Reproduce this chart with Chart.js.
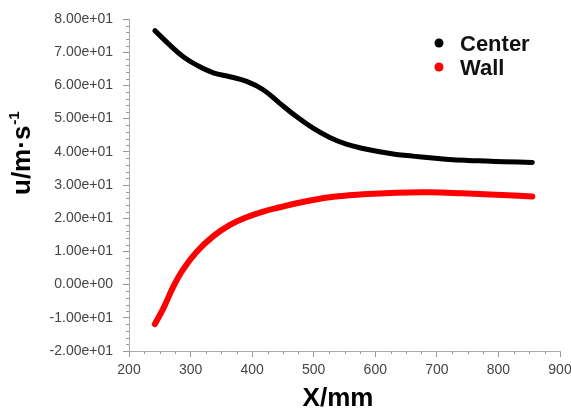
<!DOCTYPE html>
<html lang="en">
<head>
  <meta charset="UTF-8" />
  <title>u vs X</title>
  <script src="https://cdn.jsdelivr.net/npm/chart.js@4/dist/chart.umd.min.js"></script>
  <style>
    html, body { margin: 0; padding: 0; background: #fff; }
    #wrap { width: 571px; height: 409px; }
  </style>
</head>
<body>
  <div id="wrap"><canvas id="grafico" width="571" height="409"></canvas></div>
  <script>
    // data (X in mm, u in m/s)
    const centerX = [242, 266, 288, 310, 337, 364, 391, 418, 445, 472, 499, 526, 553, 580, 607, 634, 661, 689, 720, 750, 780, 810, 855];
    const centerU = [76.5, 72.2, 68.6, 66.1, 63.8, 62.6, 61.2, 58.7, 54.6, 50.6, 47.1, 44.3, 42.3, 41.0, 40.0, 39.2, 38.7, 38.2, 37.7, 37.4, 37.2, 37.0, 36.8];
    const wallX = [242, 256, 272, 288, 310, 337, 364, 391, 418, 445, 472, 526, 580, 634, 688, 742, 796, 855];
    const wallU = [-11.9, -7.1, -0.6, 4.6, 9.9, 14.6, 18.0, 20.3, 22.0, 23.3, 24.5, 26.3, 27.2, 27.7, 27.8, 27.5, 27.1, 26.5];
    const seriesNames = ["Center", "Wall"];
    const seriesColors = ["#000000", "#ff0000"];

    const xMin = 200, xMax = 900, xStep = 100, xMinor = 25;
    const yMin = -20, yMax = 80, yStep = 10, yMinor = 2;

    const toPts = (xs, ys) => xs.map((x, i) => ({ x: x, y: ys[i] }));

    // 8.00e+01 style labels
    function sci(v) {
      if (Math.abs(v) < 1e-9) return "0.00e+00";
      const e = Math.floor(Math.log10(Math.abs(v)));
      const m = v / Math.pow(10, e);
      return m.toFixed(2) + "e" + (e < 0 ? "-" : "+") + String(Math.abs(e)).padStart(2, "0");
    }

    // minor ticks, titles and legend
    const extras = {
      id: "extras",
      afterDraw(chart) {
        const c = chart.ctx;
        const xs = chart.scales.x, ys = chart.scales.y;
        const area = chart.chartArea;
        c.save();
        c.strokeStyle = "#9a9a9a";
        c.lineWidth = 1;
        c.beginPath();
        for (let v = xMin; v <= xMax; v += xMinor) {
          if (v % xStep === 0) continue;
          const px = Math.round(xs.getPixelForValue(v)) + 0.5;
          c.moveTo(px, area.bottom);
          c.lineTo(px, area.bottom + 3);
        }
        for (let v = yMin; v <= yMax; v += yMinor) {
          if (v % yStep === 0) continue;
          const py = Math.round(ys.getPixelForValue(v)) + 0.5;
          c.moveTo(area.left, py);
          c.lineTo(area.left - 3, py);
        }
        c.stroke();

        // x title
        c.fillStyle = "#000";
        c.font = "bold 26px 'Liberation Sans', Arial, sans-serif";
        c.textAlign = "center";
        c.textBaseline = "alphabetic";
        c.fillText("X/mm", 338, 406);

        // y title, with superscript
        c.translate(30, 195);
        c.rotate(-Math.PI / 2);
        c.textAlign = "left";
        c.font = "bold 26px 'Liberation Sans', Arial, sans-serif";
        c.fillText("u/m·s", 0, 0);
        const w = c.measureText("u/m·s").width;
        c.font = "bold 15px 'Liberation Sans', Arial, sans-serif";
        c.fillText("-1", w + 1, -11);
        c.setTransform(1, 0, 0, 1, 0, 0);

        // legend
        c.font = "bold 22px 'Liberation Sans', Arial, sans-serif";
        c.textAlign = "left";
        chart.data.datasets.forEach((ds, i) => {
          const cy = area.top + 24 + i * 24;
          c.fillStyle = ds.borderColor;
          c.beginPath();
          c.arc(area.right - 121, cy, 4.5, 0, Math.PI * 2);
          c.fill();
          c.fillStyle = "#111";
          c.fillText(ds.label, area.right - 100, cy + 8);
        });
        c.restore();
      }
    };

    const ctx = document.getElementById("grafico").getContext("2d");
    new Chart(ctx, {
      type: "scatter",
      data: {
        datasets: [
          {
            label: seriesNames[0],
            data: toPts(centerX, centerU),
            borderColor: seriesColors[0],
            backgroundColor: seriesColors[0],
            borderWidth: 5,
            showLine: true,
            pointRadius: 0,
            tension: 0.4,
            borderCapStyle: "round"
          },
          {
            label: seriesNames[1],
            data: toPts(wallX, wallU),
            borderColor: seriesColors[1],
            backgroundColor: seriesColors[1],
            borderWidth: 6,
            showLine: true,
            pointRadius: 0,
            tension: 0.4,
            borderCapStyle: "round"
          }
        ]
      },
      options: {
        responsive: false,
        animation: false,
        layout: { padding: { top: 19, right: 0, left: 0, bottom: 0 } },
        plugins: {
          legend: { display: false },
          tooltip: { enabled: false }
        },
        scales: {
          x: {
            type: "linear",
            min: xMin,
            max: xMax,
            afterFit: s => { s.height = 58; s.paddingRight = 11; s.paddingLeft = 0; },
            border: { display: true, color: "#aaaaaa", width: 1 },
            grid: { drawOnChartArea: false, tickLength: 6, color: "#9a9a9a" },
            ticks: {
              stepSize: xStep,
              padding: 5,
              color: "#444",
              font: { family: "'Liberation Sans', Arial, sans-serif", size: 14 },
              maxRotation: 0
            }
          },
          y: {
            type: "linear",
            min: yMin,
            max: yMax,
            afterFit: s => { s.width = 129; },
            border: { display: true, color: "#aaaaaa", width: 1 },
            grid: { drawOnChartArea: false, tickLength: 6, color: "#9a9a9a" },
            ticks: {
              stepSize: yStep,
              padding: 10,
              color: "#444",
              font: { family: "'Liberation Sans', Arial, sans-serif", size: 14 },
              callback: v => sci(v)
            }
          }
        }
      },
      plugins: [extras]
    });
  </script>
</body>
</html>
